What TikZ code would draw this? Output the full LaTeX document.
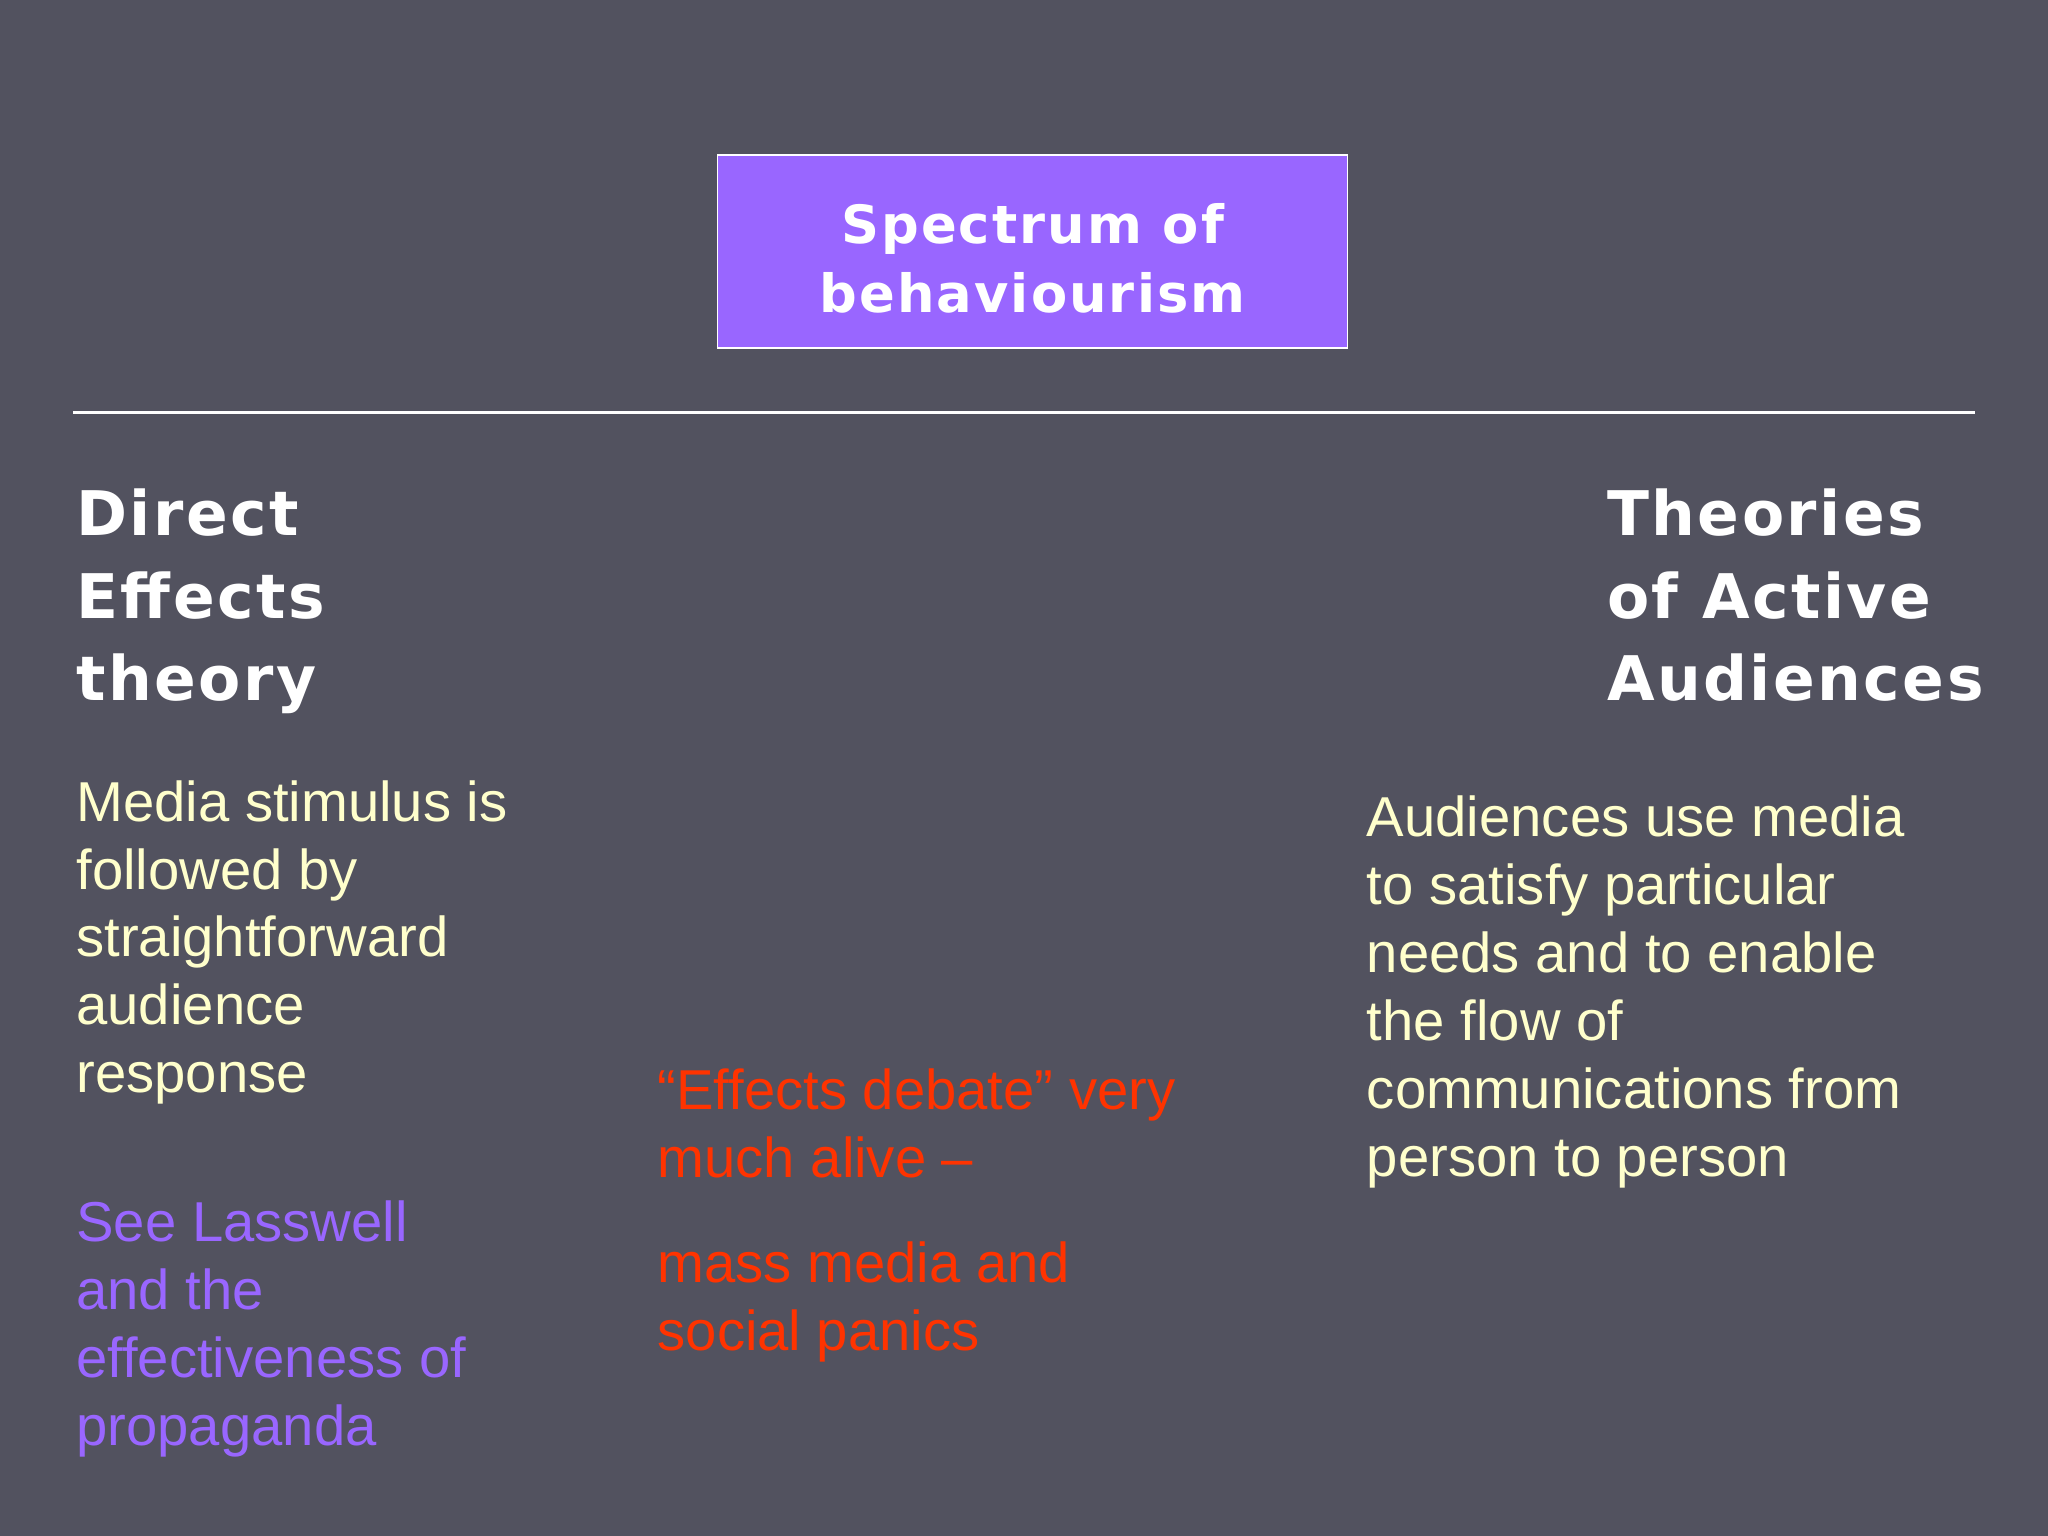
\documentclass[tikz,border=0pt]{standalone}
\usepackage{fontspec}
\setmainfont{Liberation Sans}
\newfontfamily\headfont[LetterSpace=4]{DejaVu Sans}
\definecolor{bg}{HTML}{52525F}
\definecolor{boxfill}{HTML}{9966FF}
\definecolor{body}{HTML}{FFFFCC}
\definecolor{purp}{HTML}{9966FF}
\definecolor{redt}{HTML}{FF3300}
\tikzset{
 head/.style={anchor=north west,inner sep=0pt,align=left,text=white,font=\headfont\bfseries\fontsize{17.5}{23.4}\selectfont},
 bodytext/.style={anchor=north west,inner sep=0pt,align=left,font=\fontsize{16}{19.3}\selectfont},
}
\begin{document}
\begin{tikzpicture}[x=0.013061cm,y=-0.013061cm]
\fill[bg] (0,0) rectangle (1568,1176);
\useasboundingbox (0,0) rectangle (1568,1176);
\node[draw=white,fill=boxfill,minimum width=482*0.013061cm,minimum height=148*0.013061cm,anchor=north west,inner sep=0pt] (box) at (549,118) {};
\node[text=white,align=center,font=\headfont\bfseries\fontsize{15}{19.5}\selectfont] (boxt) at ([yshift=-2pt]box.center) {Spectrum of\\behaviourism};
\coordinate (l1) at (56,316);
\coordinate (l2) at (1512,316);
\draw[white,line width=0.8pt] (l1) -- (l2);
\node[head] (direct) at (58,374) {Direct\\Effects\\theory};
\node[head] (active) at (1230,374) {Theories\\of Active\\Audiences};
\node[bodytext,text=body] (media) at (58,597) {Media stimulus is\\followed by\\straightforward\\audience\\response};
\node[bodytext,text=purp] (lass) at (58,919) {See Lasswell\\and the\\effectiveness of\\propaganda};
\node[bodytext,text=redt] (deb) at (503,818) {“Effects debate” very\\much alive –};
\node[bodytext,text=redt] (mass) at (503,950) {mass media and\\social panics};
\node[bodytext,text=body] (aud) at (1046,609) {Audiences use media\\to satisfy particular\\needs and to enable\\the flow of\\communications from\\person to person};
\end{tikzpicture}
\end{document}
